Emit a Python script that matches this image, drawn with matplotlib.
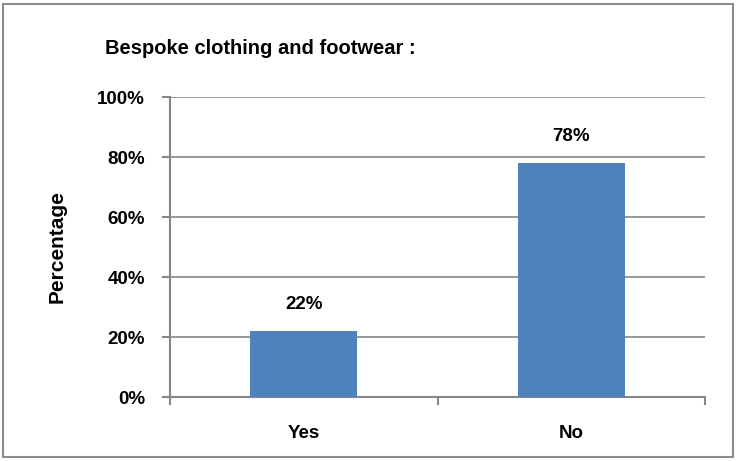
"""Bespoke clothing and footwear: Yes/No share as an Excel-style bar chart."""

import matplotlib

matplotlib.use("Agg")
import matplotlib.pyplot as plt
from matplotlib.patches import Rectangle
from matplotlib.ticker import FuncFormatter

CATEGORIES = ["Yes", "No"]
PERCENTAGES = [22, 78]
Y_TICKS = [0, 20, 40, 60, 80, 100]

BAR_COLOR = "#4F81BD"
GRID_COLOR = "#868686"

plt.rcParams["font.family"] = ["Liberation Sans", "DejaVu Sans"]
plt.rcParams["font.weight"] = "bold"

fig = plt.figure(figsize=(7.4, 4.61), dpi=100)
fig.patches.append(
    Rectangle((3 / 740, 4 / 461), 730 / 740, 453 / 461, transform=fig.transFigure,
              fill=False, edgecolor="#8C8C8C", linewidth=1.5)
)

ax = fig.add_axes([170 / 740, 64 / 461, 535 / 740, 300 / 461])
positions = range(len(CATEGORIES))
bars = ax.bar(positions, PERCENTAGES, width=0.4, color=BAR_COLOR, zorder=3)
for bar, value in zip(bars, PERCENTAGES):
    ax.annotate(f"{value}%", (bar.get_x() + bar.get_width() / 2, value),
                xytext=(0, 13), textcoords="offset points", ha="center",
                va="bottom", fontsize=13.5, fontweight="bold")

ax.set_xlim(-0.5, len(CATEGORIES) - 0.5)
ax.set_ylim(0, 100)
ax.set_yticks(Y_TICKS)
ax.yaxis.set_major_formatter(FuncFormatter(lambda v, _: f"{v:.0f}%"))
ax.set_xticks(list(positions))
ax.set_xticklabels(CATEGORIES)
ax.set_xticks([-0.5, 0.5, 1.5], minor=True)
ax.tick_params(axis="x", which="major", length=0, pad=20, labelsize=13.5)
ax.tick_params(axis="x", which="minor", length=6, width=1.5, color=GRID_COLOR,
               direction="out")
ax.tick_params(axis="y", length=6, width=1.5, color=GRID_COLOR, pad=12,
               labelsize=13.5)
for label in ax.get_xticklabels() + ax.get_yticklabels():
    label.set_fontweight("bold")

ax.grid(axis="y", color=GRID_COLOR, linewidth=1.2, zorder=0)
for side in ("top", "right"):
    ax.spines[side].set_visible(False)
for side in ("left", "bottom"):
    ax.spines[side].set_color(GRID_COLOR)
    ax.spines[side].set_linewidth(1.5)

ax.set_ylabel("Percentage", fontsize=15, fontweight="bold", labelpad=22)
fig.text(260 / 740, 1 - 49 / 461, "Bespoke clothing and footwear :",
         ha="center", va="center", fontsize=14.5, fontweight="bold")

fig.savefig("out.png", dpi=100)
